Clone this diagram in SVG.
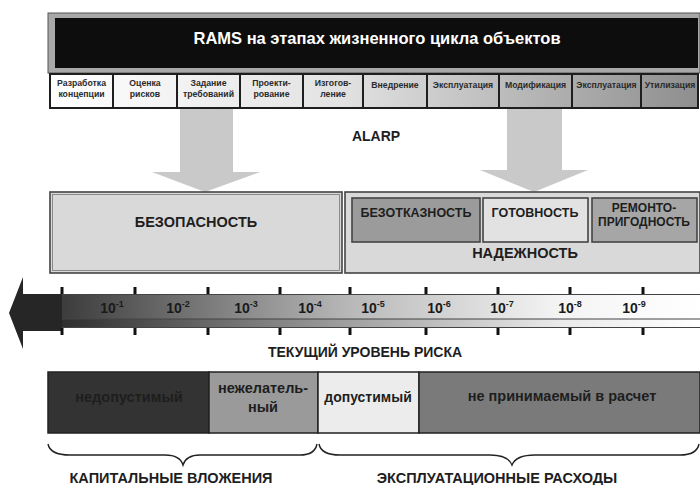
<svg xmlns="http://www.w3.org/2000/svg" width="700" height="485" viewBox="0 0 700 485">
<defs>
<linearGradient id="stageGrad" gradientUnits="userSpaceOnUse" x1="50" y1="0" x2="698" y2="0">
<stop offset="0" stop-color="#ffffff"/>
<stop offset="0.45" stop-color="#e2e2e2"/>
<stop offset="1" stop-color="#8e8e8e"/>
</linearGradient>
<linearGradient id="barTop" gradientUnits="userSpaceOnUse" x1="62" y1="0" x2="700" y2="0">
<stop offset="0" stop-color="#3c3c3c"/>
<stop offset="0.45" stop-color="#b8b8b8"/>
<stop offset="0.78" stop-color="#f4f4f4"/>
<stop offset="1" stop-color="#ffffff"/>
</linearGradient>
<linearGradient id="barBot" gradientUnits="userSpaceOnUse" x1="62" y1="0" x2="700" y2="0">
<stop offset="0" stop-color="#2e2e2e"/>
<stop offset="0.45" stop-color="#a0a0a0"/>
<stop offset="0.78" stop-color="#eaeaea"/>
<stop offset="1" stop-color="#ffffff"/>
</linearGradient>
</defs>
<style>
text{font-family:"Liberation Sans",Arial,sans-serif;font-weight:bold;text-anchor:middle}
.cell{fill:url(#stageGrad);stroke:#1e1e1e;stroke-width:2}
.cl{font-size:8.7px;fill:#2a2a2a}
.big{font-size:14.5px;fill:#1e1e1e}
.mid{font-size:12.5px;fill:#1e1e1e}
.box{stroke:#444;stroke-width:1.6}
.tick{stroke:#111;stroke-width:3}
.exp{font-size:14px;fill:#1a1a1a}
.sup{font-size:9px}
.brace{fill:none;stroke:#222;stroke-width:1.4}
.arrow{fill:#c9c9c9}
.seg{stroke:#222;stroke-width:1.5}
</style>

<g id="header">
<rect x="48" y="13" width="652" height="60" fill="#a8a8a8" stroke="#555" stroke-width="1"/>
<rect x="55" y="18" width="643" height="50" fill="#0d0d0d"/>
<text x="377" y="44" style="font-size:16.5px" fill="#ffffff">RAMS на этапах жизненного цикла объектов</text>
</g>

<g id="stages">
<rect class="cell" x="50" y="74" width="63" height="34"/>
<rect class="cell" x="113" y="74" width="64" height="34"/>
<rect class="cell" x="177" y="74" width="63" height="34"/>
<rect class="cell" x="240" y="74" width="63" height="34"/>
<rect class="cell" x="303" y="74" width="60" height="34"/>
<rect class="cell" x="363" y="74" width="64" height="34"/>
<rect class="cell" x="427" y="74" width="72" height="34"/>
<rect class="cell" x="499" y="74" width="73" height="34"/>
<rect class="cell" x="572" y="74" width="69" height="34"/>
<rect class="cell" x="641" y="74" width="57" height="34"/>
<text class="cl" x="81.5" y="86">Разработка</text><text class="cl" x="81.5" y="96.5">концепции</text>
<text class="cl" x="145" y="86">Оценка</text><text class="cl" x="145" y="96.5">рисков</text>
<text class="cl" x="208.5" y="86">Задание</text><text class="cl" x="208.5" y="96.5">требований</text>
<text class="cl" x="271.5" y="86">Проекти-</text><text class="cl" x="271.5" y="96.5">рование</text>
<text class="cl" x="333" y="86">Изгогов-</text><text class="cl" x="333" y="96.5">ление</text>
<text class="cl" x="395" y="88">Внедрение</text>
<text class="cl" x="463" y="88">Эксплуатация</text>
<text class="cl" x="535.5" y="88">Модификация</text>
<text class="cl" x="606.5" y="88">Эксплуатация</text>
<text class="cl" x="670" y="88">Утилизация</text>
</g>

<g id="arrows-down">
<polygon class="arrow" points="180,109 233,109 233,172 260,172 205,192 152,172 180,172"/>
<polygon class="arrow" points="507,109 562,109 562,170 588,170 534,192 480,170 507,170"/>
</g>

<g id="alarp">
<text class="mid" x="376" y="141" style="font-size:14px">ALARP</text>
</g>

<g id="safety">
<rect class="box" x="50" y="192" width="292" height="81" fill="#d9d9d9"/>
<rect x="52.5" y="194.5" width="287" height="76" fill="none" stroke="#777" stroke-width="0.8"/>
<text class="big" x="196" y="227">БЕЗОПАСНОСТЬ</text>
</g>

<g id="reliability">
<rect class="box" x="345" y="192" width="355" height="81" fill="#d9d9d9"/>
<text class="big" x="525" y="258">НАДЕЖНОСТЬ</text>
</g>
<g id="failfree">
<rect class="box" x="352" y="198" width="128" height="44" fill="#9b9b9b"/>
<text class="mid" x="416" y="217">БЕЗОТКАЗНОСТЬ</text>
</g>
<g id="availability">
<rect class="box" x="483" y="198" width="105" height="44" fill="#e2e2e2"/>
<text class="mid" x="535" y="217" fill="#333">ГОТОВНОСТЬ</text>
</g>
<g id="maintainability">
<rect class="box" x="592" y="198" width="105" height="44" fill="#a6a6a6"/>
<text class="mid" x="644" y="212" style="font-size:12px">РЕМОНТО-</text>
<text class="mid" x="644" y="226" style="font-size:12px">ПРИГОДНОСТЬ</text>
</g>

<g id="risk-scale">
<rect x="62" y="295" width="638" height="24" fill="url(#barTop)"/>
<rect x="62" y="319" width="638" height="9" fill="url(#barBot)"/>
<line x1="62" y1="294.5" x2="700" y2="294.5" stroke="#444" stroke-width="1.2"/>
<line x1="62" y1="319" x2="700" y2="319" stroke="#444" stroke-width="1.2"/>
<line x1="62" y1="327.5" x2="700" y2="327.5" stroke="#444" stroke-width="1.2"/>
<polygon points="9,313 23,277 23,294 62,294 62,331 23,331 23,349" fill="#262626"/>
<g class="tick">
<line x1="62" y1="287" x2="62" y2="294"/><line x1="62" y1="328" x2="62" y2="335"/>
<line x1="135" y1="287" x2="135" y2="294"/><line x1="135" y1="328" x2="135" y2="335"/>
<line x1="208" y1="287" x2="208" y2="294"/><line x1="208" y1="328" x2="208" y2="335"/>
<line x1="280" y1="287" x2="280" y2="294"/><line x1="280" y1="328" x2="280" y2="335"/>
<line x1="350" y1="287" x2="350" y2="294"/><line x1="350" y1="328" x2="350" y2="335"/>
<line x1="426" y1="287" x2="426" y2="294"/><line x1="426" y1="328" x2="426" y2="335"/>
<line x1="498" y1="287" x2="498" y2="294"/><line x1="498" y1="328" x2="498" y2="335"/>
<line x1="570" y1="287" x2="570" y2="294"/><line x1="570" y1="328" x2="570" y2="335"/>
<line x1="643" y1="287" x2="643" y2="294"/><line x1="643" y1="328" x2="643" y2="335"/>
</g>
<text class="exp" x="112" y="313">10<tspan class="sup" dy="-6">-1</tspan></text>
<text class="exp" x="178" y="313">10<tspan class="sup" dy="-6">-2</tspan></text>
<text class="exp" x="246" y="313">10<tspan class="sup" dy="-6">-3</tspan></text>
<text class="exp" x="310" y="313">10<tspan class="sup" dy="-6">-4</tspan></text>
<text class="exp" x="373" y="313">10<tspan class="sup" dy="-6">-5</tspan></text>
<text class="exp" x="439" y="313">10<tspan class="sup" dy="-6">-6</tspan></text>
<text class="exp" x="502" y="313">10<tspan class="sup" dy="-6">-7</tspan></text>
<text class="exp" x="570" y="313">10<tspan class="sup" dy="-6">-8</tspan></text>
<text class="exp" x="634" y="313">10<tspan class="sup" dy="-6">-9</tspan></text>
<text class="big" x="365" y="357" style="font-size:14px">ТЕКУЩИЙ УРОВЕНЬ РИСКА</text>
</g>

<g id="unacceptable">
<rect class="seg" x="48" y="372" width="161" height="61" fill="#333333"/>
<text class="big" x="129" y="402" fill="#101010">недопустимый</text>
</g>
<g id="undesirable">
<rect class="seg" x="209" y="372" width="109" height="61" fill="#9a9a9a"/>
<text class="big" x="263" y="393">нежелатель-</text>
<text class="big" x="263" y="412">ный</text>
</g>
<g id="acceptable">
<rect class="seg" x="318" y="372" width="101" height="61" fill="#ececec"/>
<text class="big" x="368" y="402" style="font-size:14px">допустимый</text>
</g>
<g id="negligible">
<rect class="seg" x="419" y="372" width="281" height="61" fill="#7a7a7a"/>
<text class="big" x="562" y="401">не принимаемый в расчет</text>
</g>

<g id="braces">
<path class="brace" d="M48,444 Q50,455 70,455 L165,455 Q180,455 183,465 Q186,455 200,455 L300,455 Q315,455 317,444"/>
<path class="brace" d="M319,444 Q321,455 340,455 L490,455 Q508,455 512,465 Q516,455 535,455 L680,455 Q697,455 699,444"/>
</g>
<g id="labels-bottom">
<text class="big" x="171" y="483">КАПИТАЛЬНЫЕ ВЛОЖЕНИЯ</text>
<text class="big" x="497" y="483">ЭКСПЛУАТАЦИОННЫЕ РАСХОДЫ</text>
</g>
</svg>
